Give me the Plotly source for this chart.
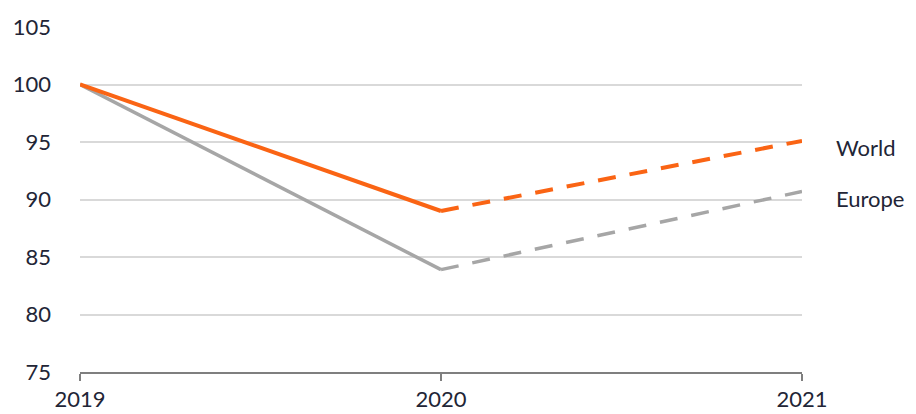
import plotly.graph_objects as go

years = [2019, 2020, 2021]
world = [100, 89.0, 95.1]
europe = [100, 83.9, 90.7]
y_ticks = [75, 80, 85, 90, 95, 100, 105]

orange = "#fa6414"
grey = "#a6a6a6"
font = dict(family="Lato, Open Sans, sans-serif", size=22, color="#222536")

fig = go.Figure()
# Europe
fig.add_trace(go.Scatter(x=years[:2], y=europe[:2], mode="lines",
                         line=dict(color=grey, width=3.5), showlegend=False))
fig.add_trace(go.Scatter(x=years[1:], y=europe[1:], mode="lines",
                         line=dict(color=grey, width=3.5, dash="18px,14px"), showlegend=False))
# World
fig.add_trace(go.Scatter(x=years[:2], y=world[:2], mode="lines",
                         line=dict(color=orange, width=4), showlegend=False))
fig.add_trace(go.Scatter(x=years[1:], y=world[1:], mode="lines",
                         line=dict(color=orange, width=4, dash="18px,14px"), showlegend=False))

for name, vals in [("World", world), ("Europe", europe)]:
    fig.add_annotation(x=years[-1], y=vals[-1], text=name, showarrow=False,
                       xanchor="left", yanchor="middle", xshift=32, yshift=-7,
                       font=font)

fig.update_layout(
    width=916, height=414,
    margin=dict(l=72, r=122, t=19, b=50, autoexpand=False),
    plot_bgcolor="white", paper_bgcolor="white",
    font=font,
    xaxis=dict(range=[2019, 2021], tickvals=years, ticktext=[str(y) for y in years],
               showgrid=False, zeroline=False, showline=True, linecolor="#7f7f7f",
               linewidth=2, ticks="outside", ticklen=7, tickwidth=2, tickcolor="#7f7f7f",
               tickfont=font, automargin=False),
    yaxis=dict(range=[75, 105], tickvals=y_ticks, showgrid=True, gridcolor="#d9d9d9",
               gridwidth=1.5, zeroline=False, showline=False, ticks="",
               ticklabelstandoff=28, tickfont=font, automargin=False),
)

fig.write_html("out.html")
